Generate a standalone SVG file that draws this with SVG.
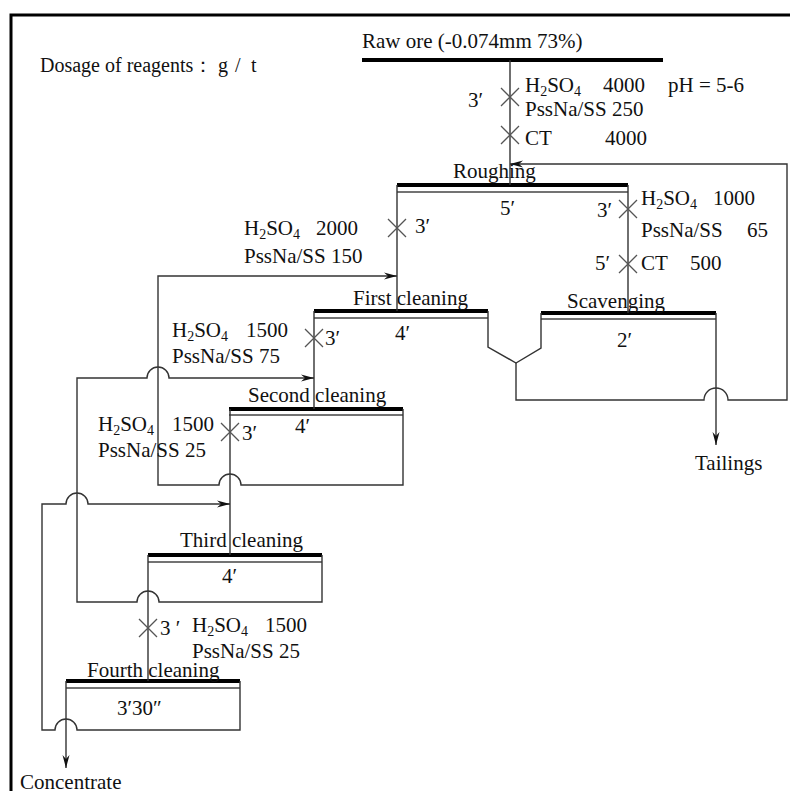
<svg xmlns="http://www.w3.org/2000/svg" width="790" height="791" viewBox="0 0 790 791">
<style>
text{font-family:"Liberation Serif","Times New Roman",serif;font-size:21px;fill:#111}
.sub{font-size:14px}
.bar{stroke:#000;stroke-width:4;fill:none}
.thin{stroke:#444;stroke-width:1.4;fill:none}
.ln{stroke:#333;stroke-width:1.4;fill:none}
.x{stroke:#555;stroke-width:1.3;fill:none}
.frame{stroke:#000;stroke-width:3;fill:none}
</style>
<defs>
<marker id="ah" markerWidth="14" markerHeight="8" refX="13" refY="4" orient="auto" markerUnits="userSpaceOnUse">
<path d="M0,0.5 L13,4 L0,7.5 L4,4 z" fill="#111"/>
</marker>
</defs>
<rect width="790" height="791" fill="#fff"/>
<path class="frame" d="M11,792 V15 H791"/>

<g id="legend"><text x="40" y="72" style="font-size:20px">Dosage of reagents：</text><text x="218" y="72" style="font-size:20px">g<tspan x="235">/</tspan><tspan x="251">t</tspan></text></g>

<g id="raw-ore">
<text x="362" y="48">Raw ore (-0.074mm 73%)</text>
<line class="bar" x1="362" y1="60" x2="663" y2="60"/>
</g>

<g id="roughing">
<line class="bar" x1="397" y1="185" x2="628" y2="185"/>
<line class="thin" x1="397" y1="192" x2="628" y2="192"/>
<text x="453" y="178">Roughing</text>
<text x="500" y="215">5′</text>
</g>

<g id="first-cleaning">
<line class="bar" x1="314" y1="311" x2="488" y2="311"/>
<line class="thin" x1="314" y1="318" x2="488" y2="318"/>
<text x="353" y="305">First cleaning</text>
<text x="395" y="340">4′</text>
</g>

<g id="scavenging">
<line class="bar" x1="541" y1="313" x2="716" y2="313"/>
<line class="thin" x1="541" y1="319" x2="716" y2="319"/>
<text x="567" y="308">Scavenging</text>
<text x="617" y="347">2′</text>
</g>

<g id="second-cleaning">
<line class="bar" x1="229" y1="409" x2="403" y2="409"/>
<line class="thin" x1="229" y1="415" x2="403" y2="415"/>
<text x="248" y="402">Second cleaning</text>
<text x="295" y="433">4′</text>
</g>

<g id="third-cleaning">
<line class="bar" x1="148" y1="555" x2="322" y2="555"/>
<line class="thin" x1="148" y1="562" x2="322" y2="562"/>
<text x="180" y="547">Third cleaning</text>
<text x="222" y="583">4′</text>
</g>

<g id="fourth-cleaning">
<line class="bar" x1="66" y1="681" x2="240" y2="681"/>
<line class="thin" x1="66" y1="688" x2="240" y2="688"/>
<text x="87" y="677">Fourth cleaning</text>
<text x="117" y="715">3′30″</text>
</g>

<g id="tailings"><text x="695" y="470">Tailings</text></g>
<g id="concentrate"><text x="20" y="789">Concentrate</text></g>

<g id="connectors">
<path class="ln" d="M510,60 V185"/>
<path class="ln" d="M397,185 V311"/>
<path class="ln" d="M628,185 V313"/>
<path class="ln" d="M314,311 V409"/>
<path class="ln" d="M230,409 V555"/>
<path class="ln" d="M148,555 V681"/>
<path class="ln" d="M66,681 V768" marker-end="url(#ah)"/>
<path class="ln" d="M716,313 V445" marker-end="url(#ah)"/>
<path class="ln" d="M488,311 V347 L516,363 L541,348 V313"/>
<path class="ln" d="M516,363 V400 H704 A12,12 0 0 1 728,400 H787 V164 H510" marker-end="url(#ah)"/>
<path class="ln" d="M403,409 V485 H241 A11,11 0 0 0 219,485 H158 V276 H397" marker-end="url(#ah)"/>
<path class="ln" d="M322,555 V602 H159 A11,11 0 0 0 137,602 H77 V378 H147 A11,11 0 0 1 169,378 H314" marker-end="url(#ah)"/>
<path class="ln" d="M240,681 V730 H77 A11,11 0 0 0 55,730 H42 V504 H66 A11,11 0 0 1 88,504 H230" marker-end="url(#ah)"/>
</g>

<g id="reagents">
<path class="x" d="M501,88 L519,106 M519,88 L501,106"/>
<path class="x" d="M501,126 L519,144 M519,126 L501,144"/>
<text x="468" y="107">3′</text>
<text x="525" y="92">H<tspan class="sub" dy="4">2</tspan><tspan dy="-4">SO</tspan><tspan class="sub" dy="4">4</tspan><tspan dy="-4" x="603">4000</tspan><tspan x="668">pH = 5-6</tspan></text>
<text x="525" y="116">PssNa/SS 250</text>
<text x="525" y="145">CT<tspan x="605">4000</tspan></text>

<path class="x" d="M388,219 L406,237 M406,219 L388,237"/>
<text x="415" y="233">3′</text>
<text x="244" y="235">H<tspan class="sub" dy="4">2</tspan><tspan dy="-4">SO</tspan><tspan class="sub" dy="4">4</tspan><tspan dy="-4" x="316">2000</tspan></text>
<text x="244" y="263">PssNa/SS 150</text>

<path class="x" d="M619,200 L637,218 M637,200 L619,218"/>
<text x="597" y="217">3′</text>
<path class="x" d="M619,255 L637,273 M637,255 L619,273"/>
<text x="595" y="270">5′</text>
<text x="641" y="205">H<tspan class="sub" dy="4">2</tspan><tspan dy="-4">SO</tspan><tspan class="sub" dy="4">4</tspan><tspan dy="-4" x="713">1000</tspan></text>
<text x="641" y="237">PssNa/SS<tspan x="747">65</tspan></text>
<text x="641" y="270">CT<tspan x="690">500</tspan></text>

<path class="x" d="M305,329 L323,347 M323,329 L305,347"/>
<text x="325" y="345">3′</text>
<text x="172" y="337">H<tspan class="sub" dy="4">2</tspan><tspan dy="-4">SO</tspan><tspan class="sub" dy="4">4</tspan><tspan dy="-4" x="246">1500</tspan></text>
<text x="172" y="363">PssNa/SS 75</text>

<path class="x" d="M221,423 L239,441 M239,423 L221,441"/>
<text x="242" y="440">3′</text>
<text x="98" y="431">H<tspan class="sub" dy="4">2</tspan><tspan dy="-4">SO</tspan><tspan class="sub" dy="4">4</tspan><tspan dy="-4" x="172">1500</tspan></text>
<text x="98" y="457">PssNa/SS 25</text>

<path class="x" d="M139,619 L157,637 M157,619 L139,637"/>
<text x="160" y="635">3 ′</text>
<text x="192" y="632">H<tspan class="sub" dy="4">2</tspan><tspan dy="-4">SO</tspan><tspan class="sub" dy="4">4</tspan><tspan dy="-4" x="265">1500</tspan></text>
<text x="192" y="658">PssNa/SS 25</text>
</g>
</svg>
